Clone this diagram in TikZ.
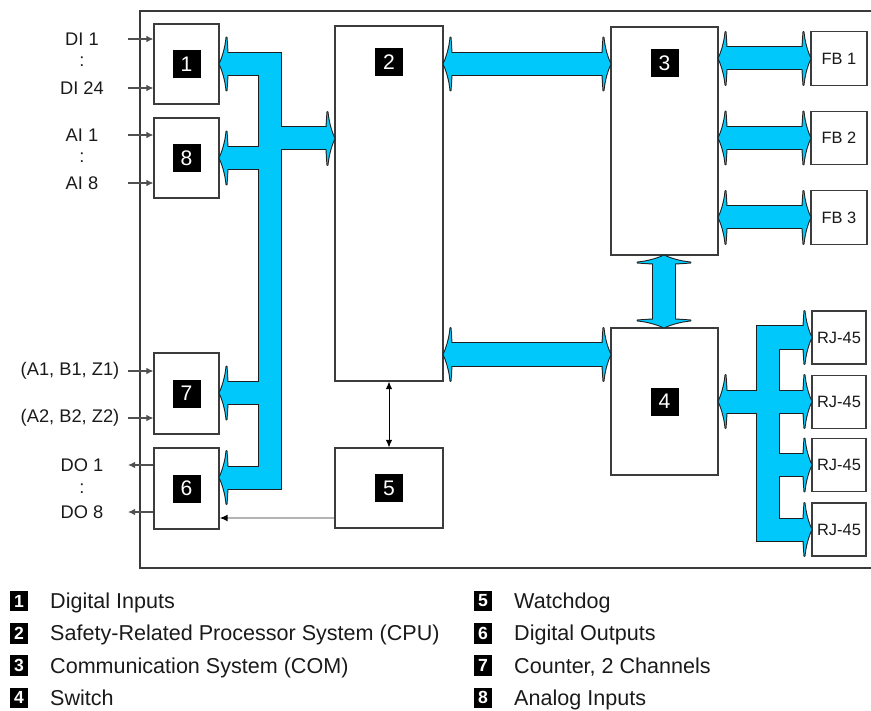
\documentclass[tikz,border=0pt]{standalone}
\usepackage{fontspec}
\setmainfont{Liberation Sans}
\usetikzlibrary{arrows.meta,calc}
\definecolor{buscyan}{HTML}{00C8FA}
\definecolor{busedge}{HTML}{1E1E1E}
\definecolor{boxline}{HTML}{3C3C3C}
\definecolor{framecol}{HTML}{3A3A3A}
\definecolor{sigcol}{HTML}{505050}
\definecolor{wdgray}{HTML}{B4B4B4}
\definecolor{textcol}{HTML}{1A1A1A}

% fat arrow head, tip at #2, pointing along angle #3
\newcommand\fathead[3]{%
  \path[#1, shift={#2}, rotate=#3] (0,0) .. controls (-3,6) and (-6,16) .. (-7,26.5)
    -- (-8,11) -- (-8,-11) -- (-7,-26.5) .. controls (-6,-16) and (-3,-6) .. (0,0) -- cycle;}

% all cyan busses, drawn twice (outline, then fill)
\newcommand\busses[2]{%
  % left bus
  \path[#1, shorten <=0.18cm, shorten >=0.18cm] (b1.east |- 0,64) -- (270,64) -- (270,477.5) -- (b6.east |- 0,477.5);
  \path[#1, shorten >=0.18cm] (270,138.5) -- (b2.west |- 0,138.5);
  \path[#1, shorten >=0.18cm] (270,158) -- (b8.east |- 0,158);
  \path[#1, shorten >=0.18cm] (270,393) -- (b7.east |- 0,393);
  \fathead{#2}{(b1.east |- 0,64)}{180}
  \fathead{#2}{(b6.east |- 0,477.5)}{180}
  \fathead{#2}{(b2.west |- 0,138.5)}{0}
  \fathead{#2}{(b8.east |- 0,158)}{180}
  \fathead{#2}{(b7.east |- 0,393)}{180}
  % CPU to COM and switch
  \foreach \y/\t in {64/b3, 354.5/b4}{
    \path[#1, shorten <=0.18cm, shorten >=0.18cm] (b2.east |- 0,\y) -- (\t.west |- 0,\y);
    \fathead{#2}{(b2.east |- 0,\y)}{180}
    \fathead{#2}{(\t.west |- 0,\y)}{0}
  }
  % COM to fieldbus
  \foreach \f in {fb1,fb2,fb3}{
    \path[#1, shorten <=0.18cm, shorten >=0.18cm] (b3.east |- \f.west) -- (\f.west);
    \fathead{#2}{(b3.east |- \f.west)}{180}
    \fathead{#2}{(\f.west)}{0}
  }
  % COM to switch
  \path[#1, shorten <=0.18cm, shorten >=0.18cm] (664,0 |- b3.south) -- (664,0 |- b4.north);
  \fathead{#2}{(664,0 |- b3.south)}{90}
  \fathead{#2}{(664,0 |- b4.north)}{-90}
  % switch to RJ-45
  \path[#1, shorten <=0.18cm, shorten >=0.18cm] (b4.east) -- (b4.east -| rj2.west);
  \path[#1, shorten <=0.18cm, shorten >=0.18cm] (rj1.west) -- (767.5,0 |- rj1.west) -- (767.5,0 |- rj4.west) -- (rj4.west);
  \path[#1, shorten >=0.18cm] (767.5,0 |- rj3.west) -- (rj3.west);
  \fathead{#2}{(b4.east)}{180}
  \fathead{#2}{(b4.east -| rj2.west)}{0}
  \foreach \r in {rj1,rj3,rj4} {\fathead{#2}{(\r.west)}{0}}
}

\begin{document}
\begin{tikzpicture}[x=0.03cm, y=-0.03cm,
  blk/.style={draw=boxline, line width=0.9pt, fill=white, inner sep=0pt},
  port/.style={blk, font=\fontsize{14}{14}\selectfont, text=textcol},
  badge/.style={fill=black, text=white, minimum size=0.84cm, inner sep=0pt, font=\fontsize{18}{18}\selectfont},
  lbadge/.style={fill=black, text=white, minimum width=0.56cm, minimum height=0.62cm, inner sep=0pt, font=\fontsize{15}{15}\selectfont\bfseries},
  lbl/.style={font=\fontsize{15.6}{16}\selectfont, text=textcol, inner sep=0pt},
  legend/.style={anchor=base west, font=\fontsize{18.4}{20}\selectfont, text=textcol, inner sep=0pt},
  sig/.style={draw=sigcol, line width=0.9pt, -{Latex[length=6pt, width=5.5pt]}},
  wd/.style={draw=wdgray, line width=1.8pt, -{Latex[color=black, length=7pt, width=6pt]}},
  thinarr/.style={draw=black, line width=0.8pt, {Latex[length=6.5pt, width=5.5pt]}-{Latex[length=6.5pt, width=5.5pt]}},
  frame/.style={draw=framecol, line width=1.8pt},
  bodyedge/.style={draw=busedge, line width=0.72cm},
  bodyfill/.style={draw=buscyan, line width=0.66cm},
  headedge/.style={draw=busedge, line width=0.06cm, line join=round},
  headfill/.style={fill=buscyan}
]
  \useasboundingbox (0,0) rectangle (871,711);
  \draw[frame] (875,11) -- (140,11) -- (140,568) -- (875,568);

  % modules
  \node[blk, minimum width=1.95cm, minimum height=2.4cm]  (b1) at (186.5,64) {};
  \node[blk, minimum width=1.95cm, minimum height=2.4cm]  (b8) at (186.5,158) {};
  \node[blk, minimum width=1.95cm, minimum height=2.43cm] (b7) at (186.5,393.5) {};
  \node[blk, minimum width=1.95cm, minimum height=2.43cm] (b6) at (186.5,488.5) {};
  \node[blk, minimum width=3.24cm, minimum height=10.65cm] (b2) at (389,203.5) {};
  \node[blk, minimum width=3.24cm, minimum height=2.4cm]  (b5) at (389,488) {};
  \node[blk, minimum width=3.21cm, minimum height=6.84cm] (b3) at (664.5,141) {};
  \node[blk, minimum width=3.21cm, minimum height=4.41cm] (b4) at (664.5,401.5) {};
  \foreach \n/\y/\t in {fb1/58.5/FB 1, fb2/138/FB 2, fb3/217.5/FB 3}
    \node[port, minimum width=1.68cm, minimum height=1.6cm] (\n) at (839,\y) {\t};
  \foreach \n/\y in {rj1/337.5, rj2/402, rj3/465, rj4/529.5}
    \node[port, minimum width=1.62cm, minimum height=1.59cm] (\n) at (839,\y) {RJ-45};

  \foreach \k/\b in {1/b1, 8/b8, 7/b7, 6/b6, 5/b5, 4/b4}
    \node[badge] (n\k) at (\b) {\k};
  \node[badge] (n2) at (b2.north |- 0,62) {2};
  \node[badge] (n3) at (b3.north |- 0,63) {3};

  % busses
  \busses{bodyedge}{headedge}
  \busses{bodyfill}{headfill}

  \draw[thinarr] (b2.south) -- (b5.north);
  \draw[wd] (b5.west |- 0,518) -- (b6.east |- 0,518);

  % field signals
  \foreach \n/\y/\t in {di1/39/DI 1, di24/88/DI 24, ai1/135/AI 1, ai8/183/AI 8, do1/465/DO 1, do8/512/DO 8}
    \node[lbl] (\n) at (82,\y) {\t};
  \node[lbl] (ab1) at (70,371) {(A1, B1, Z1)};
  \node[lbl] (ab2) at (70,418) {(A2, B2, Z2)};
  \foreach \y in {62,158,489}
    \node[lbl] (c\y) at (82,\y) {:};
  \foreach \n/\y/\b in {di1/39/b1, di24/88/b1, ai1/135/b8, ai8/183/b8, ab1/371/b7, ab2/418/b7}{
    \coordinate (\n-s) at (128,\y);
    \draw[sig] (\n-s) -- (\n-s -| \b.west);
  }
  \foreach \n/\y in {do1/465, do8/512}{
    \coordinate (\n-e) at (128,\y);
    \draw[sig] (\n-e -| b6.west) -- (\n-e);
  }

  % legend
  \foreach \k/\t [count=\i from 0] in {1/Digital Inputs, 2/Safety-Related Processor System (CPU), 3/Communication System (COM), 4/Switch}{
    \pgfmathsetmacro{\ypos}{601+\i*32.3}
    \node[lbadge] (k\k) at (19,\ypos) {\k};
    \node[legend] (t\k) at (50,\ypos+7.5) {\t};
  }
  \foreach \k/\t [count=\i from 0] in {5/Watchdog, 6/Digital Outputs, 7/{Counter, 2 Channels}, 8/Analog Inputs}{
    \pgfmathsetmacro{\ypos}{601+\i*32.3}
    \node[lbadge] (k\k) at (483,\ypos) {\k};
    \node[legend] (t\k) at (514,\ypos+7.5) {\t};
  }
\end{tikzpicture}
\end{document}
